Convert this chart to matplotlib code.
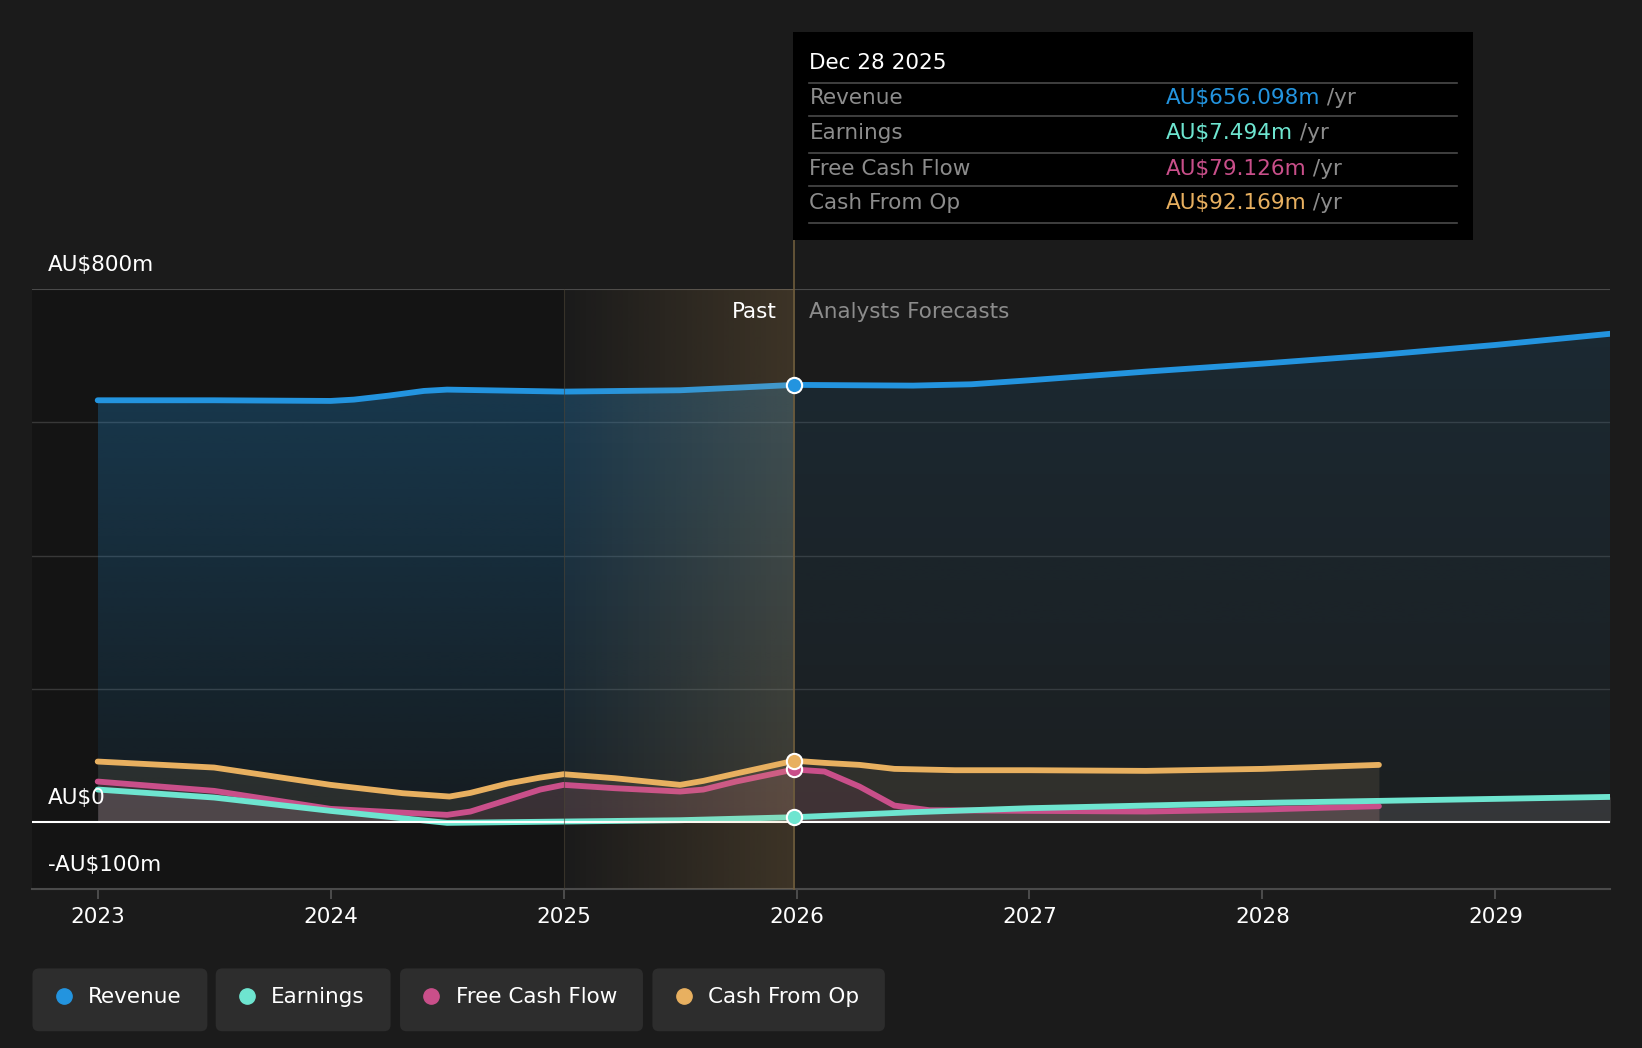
import numpy as np
import matplotlib
matplotlib.use("Agg")
import matplotlib.pyplot as plt
from matplotlib.colors import to_rgb
from matplotlib.patches import Rectangle, FancyBboxPatch

# data (AU$ millions)
rev_x = [2023.0, 2023.5, 2024.0, 2024.1, 2024.25, 2024.4, 2024.5, 2025.0, 2025.5, 2025.75, 2025.99,
         2026.25, 2026.5, 2026.75, 2027.0, 2027.5, 2028.0, 2028.5, 2029.0, 2029.5]
rev_y = [633, 633, 632, 634, 640, 647, 649, 646, 648, 652, 656.1,
         655.5, 655, 657, 663, 676, 688, 701, 716, 733]

earn_x = [2023.0, 2023.5, 2024.0, 2024.25, 2024.5, 2024.75, 2025.0, 2025.5, 2025.99,
          2026.5, 2027.0, 2027.5, 2028.0, 2028.5, 2029.0, 2029.5]
earn_y = [49, 37, 17, 8, -1, 0, 1, 3, 7.5, 15, 21, 25, 29, 32, 35, 38]

fcf_x = [2023.0, 2023.5, 2024.0, 2024.3, 2024.5, 2024.6, 2024.76, 2024.9, 2025.0, 2025.22,
         2025.5, 2025.6, 2025.74, 2025.99, 2026.12, 2026.27, 2026.42, 2026.57, 2027.0,
         2027.5, 2028.0, 2028.5]
fcf_y = [61, 47, 20, 14.5, 11, 16, 33.5, 49, 56, 51,
         46, 49, 61, 79.1, 76, 53.5, 25, 18, 17,
         16, 19, 24]

cfo_x = [2023.0, 2023.5, 2024.0, 2024.31, 2024.51, 2024.6, 2024.76, 2024.9, 2025.0, 2025.22,
         2025.5, 2025.6, 2025.74, 2025.99, 2026.12, 2026.27, 2026.42, 2026.68, 2027.0,
         2027.5, 2028.0, 2028.5]
cfo_y = [91, 82, 56, 43.5, 38.5, 44, 58, 67, 72, 66,
         56, 62, 73, 92.2, 89, 86, 80, 78, 78,
         77, 80, 86]

years = [2023, 2024, 2025, 2026, 2027, 2028, 2029]
names = ["Revenue", "Earnings", "Free Cash Flow", "Cash From Op"]
tip_vals = ["AU$656.098m", "AU$7.494m", "AU$79.126m", "AU$92.169m"]

BG = "#1b1b1b"
C_REV = "#2394df"
C_EARN = "#6ee5d0"
C_FCF = "#c94f8a"
C_CFO = "#e8b060"
colors = [C_REV, C_EARN, C_FCF, C_CFO]
FS = 15.5

plt.rcParams['font.family'] = ['DejaVu Sans']

W, H = 1568.0, 1001.0  # coords read on the scaled view
fig = plt.figure(figsize=(16.42, 10.48), dpi=100, facecolor=BG)
ax = fig.add_axes([31 / W, 1 - 849 / H, (1537 - 31) / W, (849 - 276) / H])
ax.set_facecolor(BG)

XMIN, XMAX = 2022.72, 2029.49
YMIN, YMAX = -100, 800


def grad_fill(x, y, color, a_top, a_bot, z):
    x = np.asarray(x, float)
    y = np.asarray(y, float)
    poly = ax.fill_between(x, y, 0, facecolor='none', edgecolor='none')
    path = poly.get_paths()[0]
    img = np.zeros((200, 1, 4))
    img[:, :, :3] = to_rgb(color)
    img[:, 0, 3] = np.linspace(a_bot, a_top, 200)
    im = ax.imshow(img, aspect='auto', origin='lower', zorder=z,
                   extent=[x.min(), x.max(), 0, y.max()], interpolation='bilinear')
    im.set_clip_path(path, transform=ax.transData)


# past shading
ax.axvspan(XMIN, 2025, color="#141414", zorder=0.3, lw=0)
grad = np.zeros((1, 200, 4))
grad[:, :, :3] = to_rgb("#e8b060")
grad[0, :, 3] = np.linspace(0.0, 0.17, 200)
ax.imshow(grad, aspect='auto', extent=[2025, 2025.99, YMIN, YMAX], zorder=6,
          interpolation='bilinear')

# grid
for g in [200, 400, 600]:
    ax.axhline(g, color="#383838", lw=1, zorder=0.5)
ax.axhline(800, color="#4a4a4a", lw=1.5, zorder=0.5)
ax.axvline(2025, color="#4a4234", lw=0.8, alpha=0.6, zorder=6.5)

# area fills
rx = np.array(rev_x)
ry = np.array(rev_y)
m1 = rx <= 2026
m2 = rx >= 2025.99
grad_fill(rx[m1], ry[m1], C_REV, 0.28, 0.06, 1)
grad_fill(rx[m2], ry[m2], C_REV, 0.12, 0.03, 1)
ax.fill_between(cfo_x, cfo_y, 0, color="#c8b080", alpha=0.12, lw=0, zorder=2)
ax.fill_between(fcf_x, fcf_y, 0, color=C_FCF, alpha=0.10, lw=0, zorder=2)
ax.fill_between(earn_x, earn_y, 0, color="#cfcfcf", alpha=0.14, lw=0, zorder=2)

# lines
for xs, ys, c in [(rev_x, rev_y, C_REV), (cfo_x, cfo_y, C_CFO),
                  (fcf_x, fcf_y, C_FCF), (earn_x, earn_y, C_EARN)]:
    ax.plot(xs, ys, color=c, lw=4.2, zorder=4, solid_capstyle='round',
            solid_joinstyle='round')

ax.axhline(0, color="white", lw=1.5, zorder=5)

# cursor line and markers
ax.plot([2025.99, 2025.99], [YMIN, 875], color="#6e5c3c", lw=1.2, zorder=7, clip_on=False)
for xs, ys, c in [(rev_x, rev_y, C_REV), (earn_x, earn_y, C_EARN),
                  (fcf_x, fcf_y, C_FCF), (cfo_x, cfo_y, C_CFO)]:
    i = xs.index(2025.99)
    ax.plot(xs[i], ys[i], 'o', ms=11, mfc=c, mec="white", mew=1.5, zorder=8)

ax.set_xlim(XMIN, XMAX)
ax.set_ylim(YMIN, YMAX)
ax.set_xticks(years)
ax.set_xticklabels([str(y) for y in years])
ax.set_yticks([])
ax.tick_params(axis='x', colors="#555555", labelcolor="white", labelsize=FS,
               length=7, width=1.2, pad=6)
for s in ["top", "left", "right"]:
    ax.spines[s].set_visible(False)
ax.spines["bottom"].set_color("#4a4a4a")
ax.spines["bottom"].set_linewidth(1.5)

# y labels
fig.text(46 / W, 1 - 253 / H, "AU$800m", color="white", fontsize=FS, va='center')
fig.text(46 / W, 1 - 762 / H, "AU$0", color="white", fontsize=FS, va='center')
fig.text(46 / W, 1 - 826 / H, "-AU$100m", color="white", fontsize=FS, va='center')

fig.text(742 / W, 1 - 298 / H, "Past", color="white", fontsize=FS, va='center', ha='right')
fig.text(773 / W, 1 - 298 / H, "Analysts Forecasts", color="#8c8c8c", fontsize=FS, va='center')

# tooltip
fig.patches.append(Rectangle((757 / W, 1 - 229 / H), (1407 - 757) / W, (229 - 31) / H,
                             transform=fig.transFigure, facecolor="black", zorder=10))
fig.text(773 / W, 1 - 60 / H, "Dec 28 2025", color="white", fontsize=FS, va='center', zorder=11)
for yy in [79, 111, 146, 178, 213]:
    fig.add_artist(plt.Line2D([773 / W, 1391 / W], [1 - yy / H, 1 - yy / H],
                              color="#4a4a4a", lw=1.2, zorder=11))
rend = fig.canvas.get_renderer()
for k, yy in enumerate([94, 127, 161, 194]):
    fig.text(773 / W, 1 - yy / H, names[k], color="#8c8c8c", fontsize=FS, va='center', zorder=11)
    t = fig.text(1113 / W, 1 - yy / H, tip_vals[k], color=colors[k], fontsize=FS,
                 va='center', zorder=11)
    bb = t.get_window_extent(rend).transformed(fig.transFigure.inverted())
    fig.text(bb.x1, 1 - yy / H, " /yr", color="#8c8c8c", fontsize=FS, va='center', zorder=11)

# legend buttons
boxes = [(31, 198), (206, 373), (382, 614), (623, 845)]
for k, (x0, x1) in enumerate(boxes):
    fig.patches.append(FancyBboxPatch((x0 / W, 1 - 985 / H), (x1 - x0) / W, 60 / H,
                                      boxstyle="round,pad=0,rounding_size=0.004",
                                      mutation_aspect=1642 / 1048,
                                      transform=fig.transFigure, facecolor="#2d2d2d",
                                      edgecolor="none", zorder=1))
    fig.add_artist(plt.Line2D([(x0 + 30) / W], [1 - 951 / H], marker='o', ms=11,
                              color=colors[k], lw=0, zorder=2))
    fig.text((x0 + 53) / W, 1 - 952 / H, names[k], color="white", fontsize=FS,
             va='center', zorder=2)

fig.savefig("out.png", dpi=100, facecolor=BG)
